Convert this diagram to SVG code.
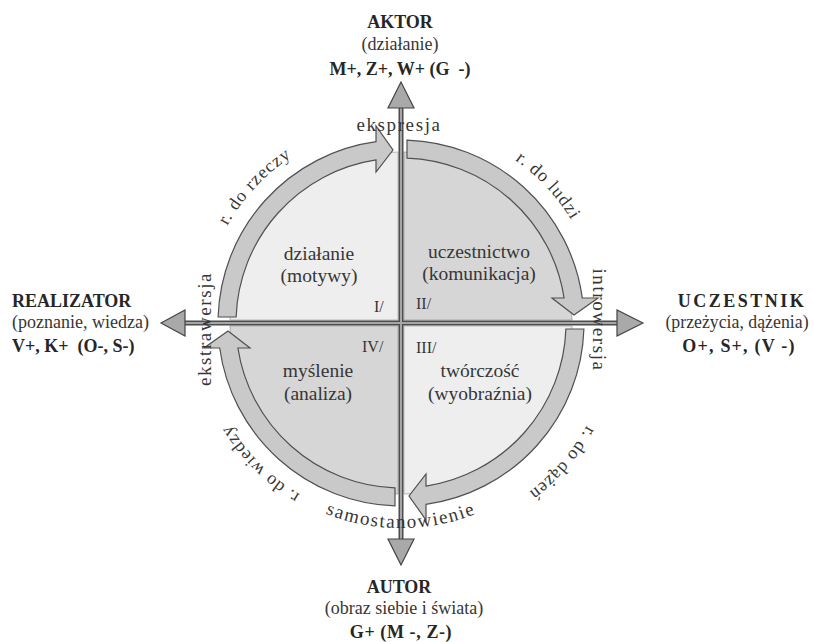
<svg xmlns="http://www.w3.org/2000/svg" xmlns:xlink="http://www.w3.org/1999/xlink" width="814" height="642" viewBox="0 0 814 642">
<style>
  text { font-family: "Liberation Serif", "Times New Roman", serif; fill: #363636; }
  .b { font-weight: bold; font-size: 18px; fill: #262626; }
  .s { font-size: 18px; }
  .mid { text-anchor: middle; }
  .q { font-size: 19.5px; text-anchor: middle; }
  .n { font-size: 16px; }
  .arc { font-size: 18px; letter-spacing: 1px; }
  .dir { font-size: 19px; letter-spacing: 1.6px; }
  .band { fill: #c9c9c9; stroke: #505050; stroke-width: 1.2; }
  .qlight { fill: #eeeeee; stroke: #b8b8b8; stroke-width: 1; }
  .qdark { fill: #d6d6d6; stroke: #ababab; stroke-width: 1; }
  .axdark { stroke: #4d4d4d; stroke-width: 5; fill: none; }
  .axlight { stroke: #a6a6a6; stroke-width: 2; fill: none; }
  .head { fill: #a9a9a9; stroke: #444; stroke-width: 1.2; stroke-linejoin: miter; }
</style>
<defs>
  <path id="quad" d="M -3,-3 L -3,-171 A 171 171 0 0 0 -171,-3 Z"/>
  <path id="bandArrow" d="M -182.9,-6 A 183 183 0 0 1 -25,-181.3 L -25,-197 L -8,-173 L -25,-151 L -25,-163.1 A 165 165 0 0 0 -164.9,-6 Z"/>
  <path id="p1" d="M 202.3,312.6 A 199 199 0 0 1 376.7,125.5"/>
  <path id="p2" d="M 425.3,125.5 A 199 199 0 0 1 599.7,312.6"/>
  <path id="p3" d="M 613,326.7 A 212 212 0 0 1 434.2,532.4"/>
  <path id="p4" d="M 383.7,521.2 A 199 199 0 0 1 202.8,340.4"/>
  <path id="pBottom" d="M 256,468 A 205 205 0 0 0 546,468"/>
</defs>

<!-- quadrants -->
<g id="q1">
  <use xlink:href="#quad" href="#quad" class="qlight" transform="translate(401,323)"/>
  <text class="q" x="319" y="260">działanie</text>
  <text class="q" x="319" y="282">(motywy)</text>
  <text class="n" x="374" y="312">I/</text>
</g>
<g id="q2">
  <use xlink:href="#quad" href="#quad" class="qdark" transform="translate(401,323) rotate(90)"/>
  <text class="q" x="479" y="258">uczestnictwo</text>
  <text class="q" x="479" y="280">(komunikacja)</text>
  <text class="n" x="416" y="309">II/</text>
</g>
<g id="q3">
  <use xlink:href="#quad" href="#quad" class="qlight" transform="translate(401,323) rotate(180)"/>
  <text class="n" x="416" y="353">III/</text>
  <text class="q" x="480" y="377">twórczość</text>
  <text class="q" x="480" y="400">(wyobraźnia)</text>
</g>
<g id="q4">
  <use xlink:href="#quad" href="#quad" class="qdark" transform="translate(401,323) rotate(270)"/>
  <text class="n" x="362" y="352">IV/</text>
  <text class="q" x="318" y="377">myślenie</text>
  <text class="q" x="318" y="400">(analiza)</text>
</g>

<!-- connectors -->
<g id="connectors">
  <use xlink:href="#bandArrow" href="#bandArrow" class="band" transform="translate(401,323)"/>
  <use xlink:href="#bandArrow" href="#bandArrow" class="band" transform="translate(401,323) rotate(90)"/>
  <use xlink:href="#bandArrow" href="#bandArrow" class="band" transform="translate(401,323) rotate(180)"/>
  <use xlink:href="#bandArrow" href="#bandArrow" class="band" transform="translate(401,323) rotate(270)"/>
  <line class="axdark" x1="401" y1="106" x2="401" y2="541"/>
  <line class="axdark" x1="183" y1="323" x2="619" y2="323"/>
  <line class="axlight" x1="401" y1="106" x2="401" y2="541"/>
  <line class="axlight" x1="183" y1="323" x2="619" y2="323"/>
  <polygon class="head" points="401,82 388,108 414,108"/>
  <polygon class="head" points="401,565 388,539 414,539"/>
  <polygon class="head" points="161,323 185,310 185,336"/>
  <polygon class="head" points="643,323 617,310 617,336"/>
</g>

<!-- direction labels -->
<g id="direction-labels">
  <text class="dir mid" x="399" y="131">ekspresja</text>
  <text class="dir mid" transform="translate(593,320) rotate(90)">introwersja</text>
  <text class="dir mid" transform="translate(211,329) rotate(-90)">ekstrawersja</text>
  <text class="dir"><textPath xlink:href="#pBottom" href="#pBottom" startOffset="50%" text-anchor="middle">samostanowienie</textPath></text>
  <text class="arc"><textPath xlink:href="#p1" href="#p1" startOffset="50%" text-anchor="middle">r. do rzeczy</textPath></text>
  <text class="arc"><textPath xlink:href="#p2" href="#p2" startOffset="50%" text-anchor="middle">r. do ludzi</textPath></text>
  <text class="arc"><textPath xlink:href="#p3" href="#p3" startOffset="50%" text-anchor="middle">r. do dążeń</textPath></text>
  <text class="arc"><textPath xlink:href="#p4" href="#p4" startOffset="50%" text-anchor="middle">r. do wiedzy</textPath></text>
</g>

<!-- outer nodes -->
<g id="aktor">
  <text class="b mid" x="400" y="28">AKTOR</text>
  <text class="s mid" x="400" y="50">(działanie)</text>
  <text class="b mid" x="400" y="75" xml:space="preserve">M+, Z+, W+ (G  -)</text>
</g>
<g id="realizator">
  <text class="b" x="12" y="307">REALIZATOR</text>
  <text class="s" x="12" y="328">(poznanie, wiedza)</text>
  <text class="b" x="12" y="352" xml:space="preserve">V+, K+  (O-, S-)</text>
</g>
<g id="uczestnik">
  <text class="b mid" x="742" y="307" style="letter-spacing:2.5px">UCZESTNIK</text>
  <text class="mid" x="737" y="328" style="font-size:17.8px">(przeżycia, dążenia)</text>
  <text class="b mid" x="739" y="352" style="letter-spacing:1.2px">O+, S+, (V -)</text>
</g>
<g id="autor">
  <text class="b mid" x="399" y="593">AUTOR</text>
  <text class="s mid" x="404" y="614">(obraz siebie i świata)</text>
  <text class="b mid" x="401" y="638" style="letter-spacing:0.6px">G+ (M -, Z-)</text>
</g>
</svg>
